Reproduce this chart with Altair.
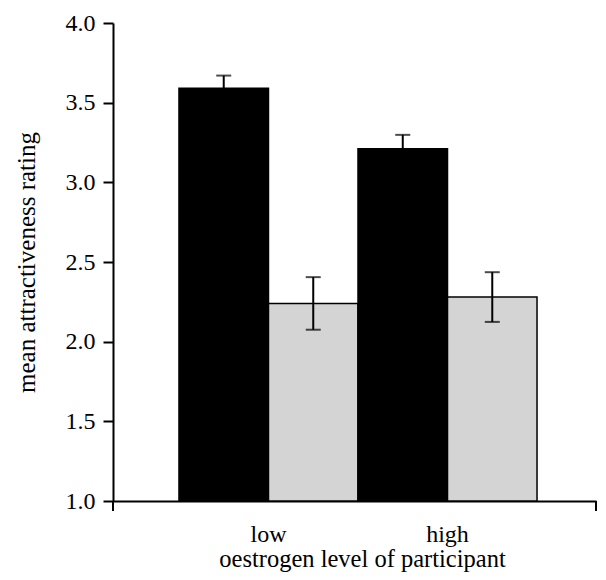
import altair as alt
import pandas as pd

# data
groups = ["low", "low", "high", "high"]
series = ["a", "b", "a", "b"]
means = [3.59, 2.24, 3.21, 2.28]
errors = [0.08, 0.165, 0.088, 0.156]

y_ticks = [1.0, 1.5, 2.0, 2.5, 3.0, 3.5, 4.0]

df = pd.DataFrame({
    "group": groups,
    "series": series,
    "mean": means,
    "err": errors,
})
df["lo"] = df["mean"] - df["err"]
df["hi"] = df["mean"] + df["err"]

W, H = 483, 478
FONT = "Liberation Serif"

xenc = alt.X("group:N", sort=["low", "high"],
             scale=alt.Scale(paddingInner=0, paddingOuter=0.349, align=0.528),
             axis=alt.Axis(title="oestrogen level of participant", labelAngle=0,
                           ticks=False, labelPadding=21, titlePadding=1,
                           titleX=249, titleFontSize=24.5))
xoff = alt.XOffset("series:N", scale=alt.Scale(paddingInner=0, paddingOuter=0))
yscale = alt.Scale(domain=[1, 4], zero=False, nice=False)

base = alt.Chart(df)

bars = base.mark_bar(stroke="black", strokeWidth=1.5).encode(
    x=xenc,
    xOffset=xoff,
    y=alt.Y("mean:Q", scale=yscale,
            axis=alt.Axis(title="mean attractiveness rating", values=y_ticks,
                          format=".1f", tickSize=10, labelPadding=8,
                          titlePadding=26)),
    y2=alt.datum(1.0),
    color=alt.Color("series:N", scale=alt.Scale(domain=["a", "b"],
                    range=["#000000", "#d4d4d4"]), legend=None),
)

rules = base.mark_rule(color="black", strokeWidth=2).encode(
    x=alt.X("group:N", sort=["low", "high"]),
    xOffset=xoff,
    y=alt.Y("lo:Q", scale=yscale),
    y2="hi:Q",
)

caps_hi = base.mark_tick(color="black", thickness=2, size=15).encode(
    x=alt.X("group:N", sort=["low", "high"]),
    xOffset=xoff,
    y=alt.Y("hi:Q", scale=yscale),
)
caps_lo = base.mark_tick(color="black", thickness=2, size=15).encode(
    x=alt.X("group:N", sort=["low", "high"]),
    xOffset=xoff,
    y=alt.Y("lo:Q", scale=yscale),
)

end_l = alt.Chart(pd.DataFrame({"k": [0]})).mark_rule(color="black", strokeWidth=2).encode(
    x=alt.value(0), y=alt.value(H), y2=alt.value(H + 10))
end_r = alt.Chart(pd.DataFrame({"k": [0]})).mark_rule(color="black", strokeWidth=2).encode(
    x=alt.value(W), y=alt.value(H), y2=alt.value(H + 10))

chart = alt.layer(bars, rules, caps_hi, caps_lo, end_l, end_r).properties(
    width=W, height=H,
    autosize=alt.AutoSizeParams(type="none"),
    padding={"left": 105, "top": 15, "right": 2, "bottom": 71},
).configure_view(stroke=None).configure_axis(
    labelFont=FONT, titleFont=FONT, labelFontSize=24, titleFontSize=25,
    titleFontWeight="normal", labelColor="black", titleColor="black",
    domainColor="black", tickColor="black", domainWidth=2, tickWidth=2,
    grid=False,
)

chart.save("out.html", embed_options={"renderer": "svg", "actions": False})
